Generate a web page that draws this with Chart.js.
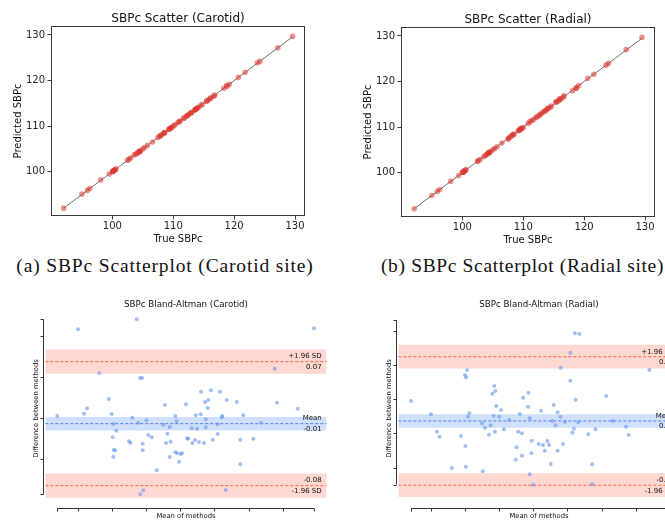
<!DOCTYPE html>
<html>
<head>
<meta charset="utf-8">
<script src="https://cdn.jsdelivr.net/npm/chart.js@4.4.1/dist/chart.umd.min.js"></script>
<style>
html, body { margin: 0; padding: 0; overflow: hidden; background: #fff; }
body { position: relative; width: 665px; height: 522px; }
canvas { position: absolute; }
.cap { position: absolute; top: 255px; transform: translateX(-50%); font-family: "Liberation Serif", serif; font-size: 19.5px; line-height: 22px; color: #111; white-space: nowrap; }
</style>
</head>
<body>
<canvas id="scCar" width="330" height="250" style="left:0px;top:0px"></canvas>
<canvas id="scRad" width="315" height="250" style="left:350px;top:1px"></canvas>
<div class="cap" style="left:165px;letter-spacing:0.85px">(a) SBPc Scatterplot (Carotid site)</div>
<div class="cap" style="left:522.5px;letter-spacing:0.65px">(b) SBPc Scatterplot (Radial site)</div>
<canvas id="baCar" width="340" height="232" style="left:0px;top:290px"></canvas>
<canvas id="baRad" width="340" height="232" style="left:352.7px;top:290px"></canvas>
<script>
// scatter: true vs predicted SBPc (mmHg)
var carotidTrue = [92.0, 95.0, 95.9, 96.3, 98.1, 99.5, 100.0, 100.2, 100.6, 100.1, 100.3, 100.5, 100.2, 102.5, 102.7, 103.0, 103.6, 103.9, 104.1, 104.4,
  104.5, 104.5, 105.0, 105.3, 105.8, 104.2, 104.6, 106.6, 107.5, 107.8, 107.9, 108.1, 108.5, 108.6, 108.5, 109.3, 109.5, 109.3, 109.6, 109.8,
  110.1, 110.3, 110.8, 111.0, 113.0, 114.5, 115.8, 114.1, 113.6, 114.0, 116.8, 118.3, 113.0, 112.3, 113.7, 116.2, 116.1, 119.2, 111.7, 112.5,
  113.7, 115.5, 115.5, 111.1, 111.8, 112.2, 112.8, 113.5, 114.8, 118.8, 120.7, 121.8, 118.8, 116.7, 124.2, 127.2, 123.8, 129.6];
var carotidPred = [92.0, 95.1, 95.9, 96.3, 98.2, 99.5, 100.0, 100.2, 100.6, 100.1, 100.3, 100.5, 100.2, 102.5, 102.7, 103.0, 103.7, 103.9, 104.1, 104.4,
  104.5, 104.5, 105.0, 105.3, 105.8, 104.1, 104.5, 106.5, 107.5, 107.8, 107.9, 108.1, 108.5, 108.6, 108.5, 109.3, 109.5, 109.3, 109.6, 109.8,
  110.1, 110.3, 110.8, 111.0, 113.0, 114.5, 115.8, 114.1, 113.6, 114.0, 116.8, 118.3, 113.0, 112.3, 113.7, 116.2, 116.1, 119.2, 111.7, 112.5,
  113.7, 115.5, 115.5, 111.1, 111.8, 112.2, 112.8, 113.5, 114.8, 118.8, 120.7, 121.8, 118.8, 116.6, 124.2, 127.2, 123.9, 129.7];
var radialTrue = [92.1, 95.0, 95.9, 96.3, 98.1, 99.4, 100.0, 100.2, 100.3, 100.1, 100.1, 100.5, 100.6, 102.5, 102.9, 102.6, 103.5, 103.8, 104.2, 104.4,
  104.0, 104.3, 104.4, 104.6, 105.0, 105.3, 105.7, 106.5, 107.6, 107.5, 107.8, 108.0, 108.3, 108.3, 108.5, 109.3, 109.2, 109.5, 109.8, 109.7,
  109.5, 110.0, 110.8, 111.1, 111.4, 111.7, 112.1, 112.3, 112.6, 112.8, 113.0, 113.3, 113.6, 113.6, 114.0, 114.4, 114.6, 114.0, 115.4, 115.4,
  116.0, 116.7, 116.2, 115.7, 116.0, 116.6, 118.1, 118.7, 118.7, 119.1, 120.6, 121.6, 123.6, 124.0, 126.9, 129.5];
var radialPred = [92.1, 95.0, 95.9, 96.3, 98.1, 99.4, 100.1, 100.2, 100.4, 100.1, 100.1, 100.5, 100.7, 102.5, 102.9, 102.6, 103.5, 103.8, 104.2, 104.4,
  104.0, 104.3, 104.5, 104.6, 105.0, 105.3, 105.7, 106.5, 107.5, 107.4, 107.8, 108.0, 108.3, 108.3, 108.5, 109.3, 109.2, 109.5, 109.8, 109.7,
  109.5, 109.9, 110.8, 111.2, 111.4, 111.7, 112.1, 112.3, 112.5, 112.8, 113.0, 113.3, 113.6, 113.6, 114.0, 114.3, 114.6, 114.1, 115.5, 115.5,
  116.2, 116.9, 116.2, 115.7, 116.0, 116.6, 118.0, 118.6, 118.6, 119.1, 120.7, 121.6, 123.6, 124.0, 127.0, 129.7];
var scatterTicks = [100, 110, 120, 130];

// bland-altman: mean of methods / difference between methods
var carotidMean = [92.0, 95.03, 95.91, 96.35, 98.15, 99.53, 99.96, 100.20, 100.64, 100.11, 100.26, 100.45, 100.20, 102.50, 102.69, 102.98, 103.63, 103.86, 104.11, 104.40,
  104.50, 104.50, 105.03, 105.32, 105.82, 104.15, 104.59, 106.55, 107.52, 107.77, 107.92, 108.11, 108.46, 108.60, 108.46, 109.28, 109.48, 109.28, 109.57, 109.82,
  110.07, 110.26, 110.84, 111.03, 113.04, 114.50, 115.82, 114.11, 113.63, 114.02, 116.80, 118.27, 113.00, 112.26, 113.73, 116.16, 116.07, 119.23, 111.68, 112.45,
  113.73, 115.48, 115.48, 111.14, 111.77, 112.16, 112.75, 113.48, 114.75, 118.79, 120.70, 121.82, 118.79, 116.66, 124.17, 127.20, 123.83, 129.58];
var carotidDiff = [0.0021, 0.1081, 0.0049, 0.0115, 0.0546, 0.0229, 0.0045, -0.0077, -0.0159, -0.0240,
  -0.0395, -0.0399, -0.0477, -0.0289, -0.0306, 0.0000, 0.1203, -0.0061, 0.0485, 0.0485,
  -0.0318, -0.0399, -0.0032, -0.0211, -0.0240, -0.0936, -0.0888, -0.0643, -0.0086, 0.0155,
  -0.0309, -0.0196, -0.0114, -0.0293, -0.0480, 0.0021, -0.0040, -0.0423, -0.0435, -0.0538,
  -0.0444, -0.0435, 0.0164, -0.0252, 0.0318, 0.0335, 0.0318, 0.0216, 0.0192, 0.0119,
  0.0216, 0.0192, 0.0042, 0.0029, -0.0020, 0.0021, 0.0005, 0.0029, -0.0130, -0.0134,
  -0.0117, -0.0081, -0.0199, -0.0257, -0.0309, -0.0273, -0.0297, -0.0309, -0.0269, -0.0269,
  -0.0257, -0.0061, -0.0570, -0.0884, 0.0183, 0.0110, 0.0599, 0.1093];
var radialMean = [92.10, 95.02, 95.89, 96.27, 98.08, 99.43, 100.02, 100.16, 100.31, 100.06, 100.12, 100.45, 100.64, 102.50, 102.93, 102.60, 103.52, 103.76, 104.20, 104.39,
  104.00, 104.29, 104.43, 104.58, 105.02, 105.27, 105.70, 106.48, 107.55, 107.45, 107.79, 108.03, 108.33, 108.33, 108.52, 109.30, 109.24, 109.49, 109.78, 109.74,
  109.49, 109.97, 110.80, 111.14, 111.43, 111.68, 112.07, 112.31, 112.55, 112.80, 112.99, 113.28, 113.57, 113.57, 113.97, 114.35, 114.64, 114.01, 115.43, 115.43,
  116.10, 116.78, 116.20, 115.72, 115.95, 116.59, 118.05, 118.63, 118.63, 119.11, 120.67, 121.64, 123.59, 123.97, 126.99, 129.60];
var radialDiff = [0.0472, 0.0277, 0.0023, -0.0050, -0.0507, -0.0039, 0.0847, 0.0818, 0.0924, -0.0185,
  -0.0488, 0.0242, 0.0292, 0.0146, 0.0082, -0.0555, -0.0020, 0.0117, 0.0257, 0.0023,
  0.0578, 0.0691, 0.0618, 0.0399, 0.0242, 0.0340, 0.0058, 0.0194, -0.0204, -0.0385,
  0.0023, 0.0282, 0.0000, -0.0327, 0.0520, 0.0593, 0.0388, 0.0219, -0.0108, -0.0292,
  -0.0599, -0.0750, -0.0156, 0.0330, -0.0171, -0.0254, -0.0112, -0.0171, -0.0448, 0.0180,
  0.0413, 0.0117, 0.0307, -0.0254, 0.0242, -0.0156, 0.0165, 0.0958, 0.1177, 0.0768,
  0.1460, 0.1450, 0.0491, 0.0009, 0.0067, 0.0161, -0.0015, -0.0453, -0.0745, 0.0058,
  0.0545, 0.0180, 0.0096, -0.0025, 0.0924, 0.1650];
// mean bias, 1.96*SD, and confidence half-widths
var carotidStats = [-0.0073, 0.0758, 0.0082, 0.0148];
var radialStats = [0.0180, 0.0938, 0.0098, 0.0173];
var carotidLabels = ["+1.96 SD", "0.07", "Mean", "-0.01", "-0.08", "-1.96 SD"];
var radialLabels = ["+1.96 SD", "0.11", "Mean", "0.02", "-0.08", "-1.96 SD"];
var baTicksX = [95, 100, 105, 110, 115, 120, 125];
var carotidTicksY = [-0.05, 0, 0.05, 0.1];
var radialTicksY = [-0.05, 0, 0.05, 0.1, 0.15];

Chart.defaults.font.family = '"DejaVu Sans", sans-serif';
Chart.defaults.color = '#1a1a1a';

// title centred over the plot area (chart.js centres its own title over the whole canvas)
function areaTitle(text, size, gap) {
  return {
    id: 'areaTitle',
    afterDraw: function (chart) {
      var a = chart.chartArea, ctx = chart.ctx;
      ctx.save();
      ctx.fillStyle = '#111';
      ctx.font = size + 'px "DejaVu Sans"';
      ctx.textAlign = 'center';
      ctx.textBaseline = 'middle';
      ctx.fillText(text, (a.left + a.right) / 2, a.top - gap);
      ctx.restore();
    }
  };
}

var boxFrame = {
  id: 'boxFrame',
  afterDraw: function (chart) {
    var a = chart.chartArea, ctx = chart.ctx;
    ctx.save();
    ctx.strokeStyle = '#3a3a3a';
    ctx.lineWidth = 1;
    ctx.strokeRect(Math.round(a.left) + 0.5, Math.round(a.top) + 0.5, Math.round(a.right - a.left) - 1, Math.round(a.bottom - a.top) - 1);
    ctx.restore();
  }
};

function scatterChart(id, title, xs, ys, padRight) {
  var lo = Math.min.apply(null, xs), hi = Math.max.apply(null, xs);
  var tickGrid = {display: true, drawOnChartArea: false, drawTicks: true, tickLength: 3.5, tickColor: '#3a3a3a'};
  return new Chart(document.getElementById(id), {
    type: 'scatter',
    data: {
      datasets: [
        {
          data: xs.map(function (x, i) { return {x: x, y: ys[i]}; }),
          backgroundColor: 'rgba(218, 55, 45, 0.55)',
          pointBorderWidth: 0,
          pointRadius: 2.8
        },
        {
          type: 'line',
          data: [{x: lo, y: lo}, {x: hi, y: hi}],
          borderColor: '#707070',
          borderWidth: 1,
          pointRadius: 0
        }
      ]
    },
    options: {
      responsive: false,
      animation: false,
      devicePixelRatio: 1,
      layout: {padding: {left: 0, right: padRight, top: 26, bottom: 0}},
      plugins: {
        legend: {display: false},
        tooltip: {enabled: false},
        title: {display: false}
      },
      scales: {
        x: {
          type: 'linear', min: 89.93, max: 131.64,
          afterBuildTicks: function (s) { s.ticks = scatterTicks.map(function (v) { return {value: v}; }); },
          afterFit: function (s) { s.height = 34; },
          grid: tickGrid,
          border: {display: false},
          ticks: {padding: 0.5, color: '#222', font: {size: 10}},
          title: {display: true, text: 'True SBPc', color: '#111', font: {size: 10}, padding: {top: 0, bottom: 4.7}}
        },
        y: {
          type: 'linear', min: 90.28, max: 131.97,
          afterBuildTicks: function (s) { s.ticks = scatterTicks.map(function (v) { return {value: v}; }); },
          afterFit: function (s) { s.width = 51; },
          grid: tickGrid,
          border: {display: false},
          ticks: {padding: 2.5, color: '#222', font: {size: 10}},
          title: {display: true, text: 'Predicted SBPc', color: '#111', font: {size: 10}, padding: {top: 12.3, bottom: 0}}
        }
      }
    },
    plugins: [boxFrame, areaTitle(title, 12, 6.8)]
  });
}

function baChart(id, title, means, diffs, stats, labels, ticksY, yMin, yMax) {
  var xMin = 90.24, xMax = 131.44;
  var mean = stats[0], loa = stats[1], ciM = stats[2], ciL = stats[3];
  var up = mean + loa, low = mean - loa;
  function flat(v) { return [{x: xMin, y: v}, {x: xMax, y: v}]; }
  function edge(v, fill, color) {
    return {type: 'line', data: flat(v), borderWidth: 0, pointRadius: 0, fill: fill, backgroundColor: color};
  }
  function dash(v, color) {
    return {type: 'line', data: flat(v), borderColor: color, borderWidth: 1, borderDash: [3, 2], pointRadius: 0, fill: false};
  }
  var red = 'rgba(255, 99, 71, 0.25)', blue = 'rgba(100, 149, 237, 0.3)';

  var decor = {
    id: 'baDecor',
    afterDraw: function (chart) {
      var ctx = chart.ctx, a = chart.chartArea, x = chart.scales.x, y = chart.scales.y;
      var dMin = Math.min.apply(null, diffs), dMax = Math.max.apply(null, diffs);
      var mMin = Math.min.apply(null, means), mMax = Math.max.apply(null, means);
      ctx.save();
      ctx.strokeStyle = '#333';
      ctx.lineWidth = 1;
      ctx.beginPath();
      var sx = Math.round(a.left - 2) + 0.5;
      ctx.moveTo(sx, y.getPixelForValue(dMax));
      ctx.lineTo(sx, y.getPixelForValue(dMin));
      [dMin, dMax].concat(ticksY).forEach(function (v) {
        var py = Math.round(y.getPixelForValue(v)) + 0.5;
        ctx.moveTo(sx - 3, py); ctx.lineTo(sx, py);
      });
      var sy = Math.round(a.bottom + 1) + 0.5;
      ctx.moveTo(x.getPixelForValue(mMin), sy);
      ctx.lineTo(x.getPixelForValue(mMax), sy);
      [mMin, mMax].concat(baTicksX).forEach(function (v) {
        var px = Math.round(x.getPixelForValue(v)) + 0.5;
        ctx.moveTo(px, sy); ctx.lineTo(px, sy + 3);
      });
      ctx.stroke();

      ctx.fillStyle = '#111';
      ctx.font = '7px "DejaVu Sans"';
      ctx.textAlign = 'right';
      ctx.textBaseline = 'middle';
      var rx = a.right - 5;
      [up, mean, low].forEach(function (v, i) {
        var py = y.getPixelForValue(v);
        ctx.fillText(labels[i * 2], rx, py - 5);
        ctx.fillText(labels[i * 2 + 1], rx, py + 5.5);
      });
      ctx.restore();
    }
  };

  return new Chart(document.getElementById(id), {
    type: 'scatter',
    data: {
      datasets: [
        {
          data: means.map(function (m, i) { return {x: m, y: diffs[i]}; }),
          backgroundColor: 'rgba(100, 149, 237, 0.6)',
          pointBorderWidth: 0,
          pointRadius: 2
        },
        dash(up, '#FF6347'),
        dash(mean, '#4f7fdc'),
        dash(low, '#FF6347'),
        edge(up - ciL, false, red), edge(up + ciL, '-1', red),
        edge(mean - ciM, false, blue), edge(mean + ciM, '-1', blue),
        edge(low - ciL, false, red), edge(low + ciL, '-1', red)
      ]
    },
    options: {
      responsive: false,
      animation: false,
      devicePixelRatio: 1,
      layout: {padding: {left: 0, right: 13.3, top: 20, bottom: 0}},
      plugins: {
        legend: {display: false},
        tooltip: {enabled: false},
        title: {display: false}
      },
      scales: {
        x: {
          type: 'linear', min: xMin, max: xMax,
          afterFit: function (s) { s.height = 15; },
          grid: {display: false}, border: {display: false}, ticks: {display: false},
          title: {display: true, text: 'Mean of methods', color: '#111', font: {size: 6.8}, padding: {top: 0, bottom: 1.2}}
        },
        y: {
          type: 'linear', min: yMin, max: yMax,
          afterFit: function (s) { s.width = 45.3; },
          grid: {display: false}, border: {display: false}, ticks: {display: false},
          title: {display: true, text: 'Difference between methods', color: '#111', font: {size: 6.8}, padding: {top: 31.9, bottom: 0}}
        }
      }
    },
    plugins: [decor, areaTitle(title, 8.7, 5)]
  });
}

scatterChart('scCar', 'SBPc Scatter (Carotid)', carotidTrue, carotidPred, 25);
scatterChart('scRad', 'SBPc Scatter (Radial)', radialTrue, radialPred, 10);
baChart('baCar', 'SBPc Bland-Altman (Carotid)', carotidMean, carotidDiff, carotidStats, carotidLabels, carotidTicksY, -0.10917, 0.13166);
baChart('baRad', 'SBPc Bland-Altman (Radial)', radialMean, radialDiff, radialStats, radialLabels, radialTicksY, -0.1076, 0.18);
</script>
</body>
</html>
